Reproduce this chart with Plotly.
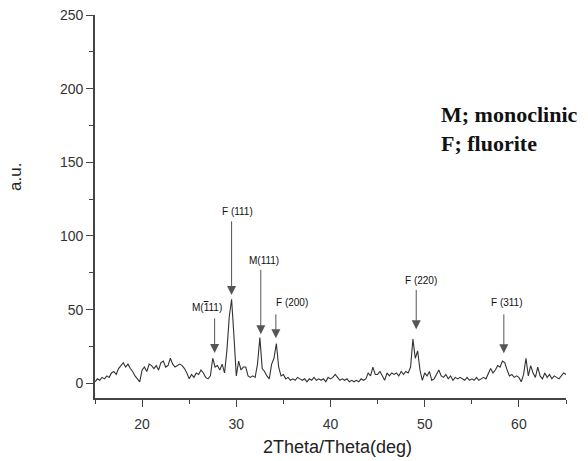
import numpy as np
import plotly.graph_objects as go

# scan grid (deg, step 0.25)
two_theta = np.round(np.arange(15.0, 65.001, 0.25), 2)
intensity = [
    1, 3, 2, 4,       # 15
    3, 5, 4, 7,       # 16
    8, 6, 10, 12,     # 17
    14, 11, 13, 10,   # 18
    8, 5, 3, 1,       # 19
    9, 11, 8, 13,     # 20
    12, 10, 12, 9,    # 21
    14, 15, 11, 12,   # 22
    17, 13, 11, 12,   # 23
    13, 12, 10, 7,    # 24
    3, 6, 4, 7,       # 25
    6, 9, 7, 4,       # 26
    3, 5, 17, 11,     # 27
    12, 9, 13, 7,     # 28
    22, 45, 57, 32,   # 29
    5, 15, 9, 11,     # 30
    11, 5, 4, 5,      # 31
    4, 13, 31, 10,    # 32
    8, 5, 3, 13,      # 33
    17, 27, 11, 5,    # 34
    6, 3, 4, 2,       # 35
    3, 2, 4, 3,       # 36
    2, 3, 1, 3,       # 37
    2, 4, 2, 3,       # 38
    2, 3, 1, 4,       # 39
    3, 4, 6, 4,       # 40
    2, 3, 2, 3,       # 41
    1, 2, 1, 2,       # 42
    1, 3, 2, 3,       # 43
    7, 5, 11, 6,      # 44
    6, 8, 5, 2,       # 45
    7, 5, 7, 6,       # 46
    7, 5, 8, 6,       # 47
    8, 7, 11, 30,     # 48
    17, 22, 9, 2,     # 49
    7, 5, 8, 2,       # 50
    3, 6, 9, 5,       # 51
    4, 6, 3, 5,       # 52
    2, 4, 3, 4,       # 53
    3, 2, 4, 2,       # 54
    3, 2, 4, 2,       # 55
    3, 4, 3, 7,       # 56
    10, 7, 9, 12,     # 57
    11, 15, 14, 9,    # 58
    5, 6, 4, 5,       # 59
    4, 1, 6, 17,      # 60
    5, 12, 7, 4,      # 61
    11, 5, 3, 7,      # 62
    4, 6, 3, 5,       # 63
    4, 3, 5, 7,       # 64
    6,                # 65
]

peak_labels = ['M(<span style="text-decoration:overline">1</span>11)', "F (111)", "M(111)",
               "F (200)", "F (220)", "F (311)"]
peak_x = [27.7, 29.5, 32.6, 34.2, 49.1, 58.4]       # arrow position
peak_tip = [20.6, 60, 33.3, 30.6, 36.7, 20.4]       # arrow tip (a.u.)
peak_tail = [45, 111, 78, 47.8, 64.4, 47.8]         # arrow tail (a.u.)
label_x = [26.85, 30.1, 32.9, 35.9, 49.6, 58.75]
label_y = [51.7, 116.5, 83.2, 54.6, 70, 54.6]

legend_lines = ["M; monoclinic", "F; fluorite"]
legend_y = [182.3, 162.6]

W, H = 588, 461
ML, MR, MT, MB = 95, 22, 15, 63
PW, PH = W - ML - MR, H - MT - MB

fig = go.Figure()
fig.add_trace(go.Scatter(x=two_theta, y=intensity, mode="lines",
                         line=dict(color="#333333", width=1.1), showlegend=False))

for lx, ly, txt in zip(label_x, label_y, peak_labels):
    fig.add_annotation(x=lx, y=ly, xref="x", yref="y", text=txt, showarrow=False,
                       font=dict(family="Liberation Sans", size=10, color="#111111"),
                       xanchor="center", yanchor="middle")
for px, tip, tail in zip(peak_x, peak_tip, peak_tail):
    fig.add_annotation(x=px, y=tip, ax=px, ay=tail, xref="x", yref="y",
                       axref="x", ayref="y", text="", showarrow=True,
                       arrowhead=2, arrowsize=1.8, arrowwidth=1, arrowcolor="#555555",
                       standoff=0)

for t, yy in zip(legend_lines, legend_y):
    fig.add_annotation(x=51.5, y=yy, xref="x", yref="y", text="<b>" + t + "</b>",
                       showarrow=False, xanchor="left", yanchor="middle",
                       font=dict(family="Liberation Serif", size=22, color="#111111"))

# axis titles placed in pixel terms
fig.add_annotation(x=(15 - ML) / PW, y=1 - (177 - MT) / PH,
                   xref="paper", yref="paper", text="a.u.", showarrow=False,
                   xanchor="center", yanchor="middle", textangle=-90,
                   font=dict(family="Liberation Sans", size=17, color="#222222"))
fig.add_annotation(x=(337 - ML) / PW, y=1 - (447 - MT) / PH,
                   xref="paper", yref="paper", text="2Theta/Theta(deg)", showarrow=False,
                   xanchor="center", yanchor="middle",
                   font=dict(family="Liberation Sans", size=18, color="#222222"))

axis_common = dict(showline=True, linecolor="#444444", linewidth=1.6, ticks="outside",
                   tickcolor="#444444", tickwidth=1.4, ticklen=7, showgrid=False, zeroline=False,
                   automargin=False,
                   tickfont=dict(family="Liberation Sans", size=14, color="#333333"))

fig.update_layout(
    width=W, height=H,
    margin=dict(l=ML, r=MR, t=MT, b=MB),
    plot_bgcolor="white", paper_bgcolor="white",
    xaxis=dict(range=[15, 65], tickvals=[20, 30, 40, 50, 60], ticklabelstandoff=5,
               minor=dict(tickvals=[25, 35, 45, 55, 65, 15], ticks="outside", ticklen=4,
                          tickcolor="#444444", tickwidth=1.2),
               **axis_common),
    yaxis=dict(range=[-10, 250], tickvals=[0, 50, 100, 150, 200, 250],
               minor=dict(tickvals=[25, 75, 125, 175, 225], ticks="outside", ticklen=4,
                          tickcolor="#444444", tickwidth=1.2),
               **axis_common),
)

fig.write_html("out.html")
